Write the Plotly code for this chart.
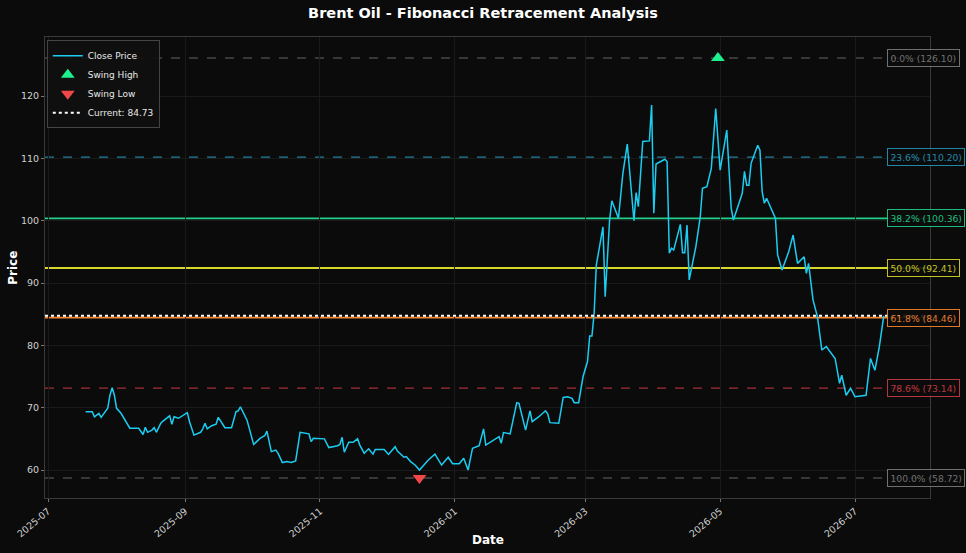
import plotly.graph_objects as go

dates = [
    "2025-07-18","2025-07-21","2025-07-22","2025-07-24","2025-07-25","2025-07-28","2025-07-29","2025-07-30","2025-07-31",
    "2025-08-01","2025-08-03","2025-08-06","2025-08-07","2025-08-11","2025-08-13","2025-08-14","2025-08-15","2025-08-17",
    "2025-08-18","2025-08-19","2025-08-21","2025-08-22","2025-08-25","2025-08-26","2025-08-27","2025-08-29",
    "2025-09-02","2025-09-03","2025-09-05","2025-09-08","2025-09-09","2025-09-10","2025-09-11","2025-09-13","2025-09-15",
    "2025-09-16","2025-09-17","2025-09-19","2025-09-22","2025-09-24","2025-09-25","2025-09-26","2025-09-29","2025-09-30",
    "2025-10-02","2025-10-05","2025-10-07","2025-10-08","2025-10-10","2025-10-12","2025-10-13","2025-10-15","2025-10-17",
    "2025-10-19","2025-10-21","2025-10-23","2025-10-27","2025-10-28","2025-10-29",
    "2025-11-03","2025-11-05","2025-11-09","2025-11-10","2025-11-11","2025-11-12","2025-11-14","2025-11-16","2025-11-18",
    "2025-11-19","2025-11-21","2025-11-23","2025-11-25","2025-11-26","2025-11-30",
    "2025-12-02","2025-12-05","2025-12-06","2025-12-09","2025-12-10","2025-12-12","2025-12-14","2025-12-16","2025-12-20",
    "2025-12-23","2025-12-26","2025-12-29","2025-12-31",
    "2026-01-03","2026-01-05","2026-01-07","2026-01-09","2026-01-12","2026-01-14","2026-01-15","2026-01-21","2026-01-22",
    "2026-01-23","2026-01-26","2026-01-29","2026-01-30",
    "2026-02-02","2026-02-04","2026-02-05","2026-02-08","2026-02-11","2026-02-12","2026-02-13","2026-02-17","2026-02-19",
    "2026-02-21","2026-02-23","2026-02-24","2026-02-26","2026-02-28",
    "2026-03-02","2026-03-03","2026-03-04","2026-03-05","2026-03-06","2026-03-09","2026-03-10","2026-03-12","2026-03-13",
    "2026-03-16","2026-03-18","2026-03-20","2026-03-23","2026-03-24","2026-03-25","2026-03-27","2026-03-30","2026-03-31",
    "2026-04-01","2026-04-02","2026-04-06","2026-04-07","2026-04-08","2026-04-09","2026-04-10","2026-04-13","2026-04-14",
    "2026-04-15","2026-04-16","2026-04-17","2026-04-20","2026-04-22","2026-04-23","2026-04-25","2026-04-27","2026-04-29",
    "2026-05-01","2026-05-04","2026-05-06","2026-05-07","2026-05-11","2026-05-12","2026-05-13","2026-05-14","2026-05-15",
    "2026-05-18","2026-05-19","2026-05-20","2026-05-21","2026-05-22","2026-05-26","2026-05-27","2026-05-29",
    "2026-06-01","2026-06-03","2026-06-05","2026-06-08","2026-06-09","2026-06-10","2026-06-12","2026-06-14","2026-06-16",
    "2026-06-18","2026-06-22","2026-06-23","2026-06-24","2026-06-25","2026-06-27","2026-06-29",
    "2026-07-01","2026-07-06","2026-07-08","2026-07-10","2026-07-12","2026-07-14",
]
close = [
    69.35,69.35,68.55,69.1,68.45,69.9,72.0,73.2,72.0,
    69.9,69.1,67.2,66.7,66.7,65.7,66.85,66.05,66.4,
    66.8,66.05,67.5,67.85,68.7,67.35,68.55,68.3,
    69.2,67.75,65.6,66.05,66.6,67.5,66.6,67.1,67.35,
    68.45,67.85,66.8,66.8,69.35,69.5,70.15,68.0,66.7,
    64.1,65.1,65.5,66.25,62.95,63.2,62.7,61.2,61.35,
    61.2,61.45,66.05,65.8,64.55,65.1,
    65.0,63.6,63.9,64.1,65.25,62.85,64.45,64.45,65.0,
    64.0,62.7,63.4,62.55,63.3,63.3,
    62.5,63.75,63.05,62.05,62.15,61.35,60.8,60.0,61.6,
    62.55,60.8,62.05,61.0,
    61.0,61.9,60.0,63.5,63.9,66.6,64.0,65.35,64.3,
    66.0,65.8,70.8,70.7,
    66.4,69.5,67.75,68.55,69.5,69.0,67.6,67.5,71.65,
    71.75,71.5,70.8,70.8,75.0,
    77.4,81.5,81.5,85.1,92.9,99.0,87.8,100.1,103.2,
    100.4,107.6,112.3,100.0,104.5,102.25,112.7,112.8,118.55,
    101.2,109.1,109.85,109.5,94.8,95.6,95.3,99.4,94.85,
    94.85,99.3,90.5,95.8,100.6,105.2,105.45,108.4,118.0,
    108.1,114.55,102.0,100.1,104.4,107.9,105.7,105.7,109.2,
    112.1,111.3,104.65,102.8,103.6,100.4,94.5,92.1,
    95.0,97.7,93.15,94.2,91.55,93.15,87.3,84.6,79.25,
    79.8,77.9,75.5,73.9,75.2,72.0,73.1,
    71.75,72.0,77.9,76.0,79.8,84.73,
]

swing_high_date = "2026-04-30"
swing_high = 126.10
swing_low_date = "2025-12-16"
swing_low = 58.72
current_price = 84.73

fib_labels = ["0.0%", "23.6%", "38.2%", "50.0%", "61.8%", "78.6%", "100.0%"]
fib_values = [126.10, 110.20, 100.36, 92.41, 84.46, 73.14, 58.72]
fib_colors = ["#8a8a8a", "#2aa6cf", "#22d08a", "#d8d82a", "#f5862e", "#e0414b", "#8a8a8a"]
fib_dash = ["dash", "dash", "solid", "solid", "solid", "dash", "dash"]
fib_opacity = [0.7, 0.75, 1.0, 1.0, 1.0, 0.7, 0.7]

BG = "#0b0b0b"
FONT = "DejaVu Sans, Liberation Sans, sans-serif"
X_RANGE = ["2025-06-29 15:00", "2026-08-03 22:00"]

fig = go.Figure()

shapes = []
annotations = []
for lab, val, col, dsh, op in zip(fib_labels, fib_values, fib_colors, fib_dash, fib_opacity):
    shapes.append(dict(type="line", xref="paper", yref="y", x0=0, x1=1, y0=val, y1=val,
                       line=dict(color=col, width=1.2 if dsh == "dash" else 1.8, dash=dsh),
                       opacity=op, layer="below"))
    annotations.append(dict(xref="paper", yref="y", x=0.951, y=val, xanchor="left", yanchor="middle",
                            text=f"{lab} ({val:.2f})", showarrow=False,
                            font=dict(family=FONT, size=9.2, color=col),
                            bgcolor=BG, bordercolor=col, borderwidth=1, borderpad=2.5,
                            opacity=0.8 if dsh == "dash" else 0.9))

fig.add_trace(go.Scatter(x=dates, y=close, mode="lines", name="Close Price",
                         line=dict(color="#1ccdf2", width=1.5)))
fig.add_trace(go.Scatter(x=[swing_high_date], y=[swing_high], mode="markers", name="Swing High",
                         marker=dict(symbol="triangle-up", size=12, color="#1ef08f")))
fig.add_trace(go.Scatter(x=[swing_low_date], y=[swing_low], mode="markers", name="Swing Low",
                         marker=dict(symbol="triangle-down", size=12, color="#f04848")))
fig.add_trace(go.Scatter(x=X_RANGE, y=[current_price, current_price],
                         mode="lines", name=f"Current: {current_price:.2f}",
                         line=dict(color="#ffffff", width=2, dash="dot")))

annotations.append(dict(xref="paper", yref="paper", x=0.5, y=-0.072, yanchor="top", text="<b>Date</b>",
                        showarrow=False, font=dict(family=FONT, size=12, color="#ffffff")))
annotations.append(dict(xref="paper", yref="paper", x=-0.037, y=0.5, xanchor="center", text="<b>Price</b>",
                        textangle=-90, showarrow=False, font=dict(family=FONT, size=12, color="#ffffff")))

fig.update_layout(
    width=966, height=553,
    margin=dict(l=45, r=36, t=37, b=55),
    paper_bgcolor=BG, plot_bgcolor=BG,
    title=dict(text="<b>Brent Oil - Fibonacci Retracement Analysis</b>", x=0.5, xanchor="center",
               y=0.977, yanchor="middle", font=dict(family=FONT, size=14.5, color="#ffffff")),
    font=dict(family=FONT, color="#cccccc", size=10),
    showlegend=True,
    legend=dict(x=0.002, y=0.993, xanchor="left", yanchor="top", bgcolor="rgba(16,16,16,0.9)",
                bordercolor="#444444", borderwidth=1, font=dict(family=FONT, size=9, color="#e8e8e8"),
                tracegroupgap=0, itemwidth=30),
    shapes=shapes, annotations=annotations,
    xaxis=dict(range=X_RANGE, type="date",
               tickvals=["2025-07-01", "2025-09-01", "2025-11-01", "2026-01-01", "2026-03-01", "2026-05-01", "2026-07-01"],
               ticktext=["2025-07", "2025-09", "2025-11", "2026-01", "2026-03", "2026-05", "2026-07"],
               tickangle=-40, tickfont=dict(size=9.5, color="#d0d0d0"),
               showgrid=True, gridcolor="#1a1a1a", gridwidth=1,
               showline=True, linecolor="#3a3a3a", mirror=True, linewidth=1,
               ticks="outside", ticklen=3, tickcolor="#777777", zeroline=False),
    yaxis=dict(range=[55.51, 129.47], tickvals=[60, 70, 80, 90, 100, 110, 120],
               tickfont=dict(size=9.5, color="#d0d0d0"),
               showgrid=True, gridcolor="#1a1a1a", gridwidth=1,
               showline=True, linecolor="#3a3a3a", mirror=True, linewidth=1,
               ticks="outside", ticklen=3, tickcolor="#777777", zeroline=False),
)

fig.write_html("out.html")
